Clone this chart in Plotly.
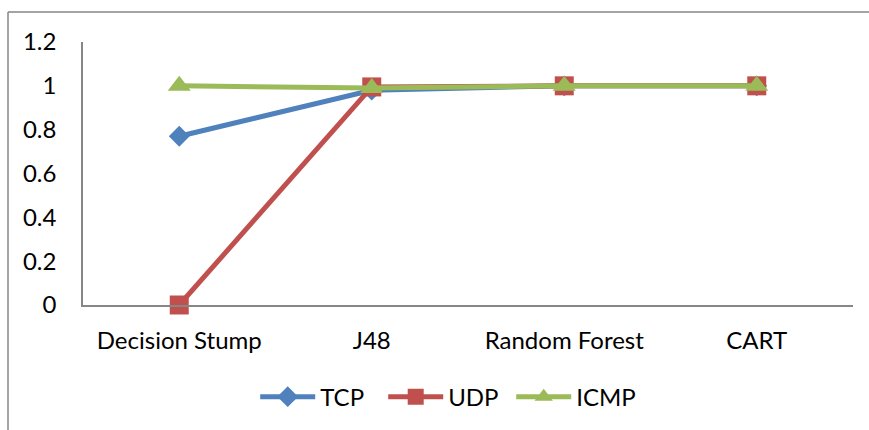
import plotly.graph_objects as go

categories = ["Decision Stump", "J48", "Random Forest", "CART"]
tcp = [0.77, 0.98, 1.0, 1.0]
udp = [0.0, 0.995, 1.0, 1.0]
icmp = [1.0, 0.99, 1.0, 1.0]
y_ticks = [0, 0.2, 0.4, 0.6, 0.8, 1, 1.2]
y_tick_text = ["0", "0.2", "0.4", "0.6", "0.8", "1", "1.2"]

FONT = "Lato"
fig = go.Figure()
fig.add_trace(go.Scatter(x=categories, y=tcp, name="TCP", mode="lines+markers",
                         line=dict(color="#4F81BD", width=5), cliponaxis=False,
                         marker=dict(symbol="diamond", size=16, color="#4F81BD")))
fig.add_trace(go.Scatter(x=categories, y=udp, name="UDP", mode="lines+markers",
                         line=dict(color="#C0504D", width=5), cliponaxis=False,
                         marker=dict(symbol="square", size=19, color="#C0504D")))
fig.add_trace(go.Scatter(x=categories, y=icmp, name="ICMP", mode="lines+markers",
                         line=dict(color="#9BBB59", width=5), cliponaxis=False,
                         marker=dict(symbol="triangle-up", size=20, color="#9BBB59")))

fig.update_layout(
    width=869, height=430,
    margin=dict(l=83, r=16, t=42, b=124),
    paper_bgcolor="white", plot_bgcolor="white",
    font=dict(family=FONT, size=24, color="black"),
    showlegend=True,
    legend=dict(orientation="h", x=0.473, xanchor="center", y=-0.345, yanchor="middle",
                font=dict(size=24), itemwidth=55, entrywidth=58, entrywidthmode="pixels",
                tracegroupgap=0),
    xaxis=dict(type="category", range=[-0.5, 3.5], showgrid=False, showline=True,
               linecolor="#868686", linewidth=1.5, ticks="", ticklabelstandoff=13,
               zeroline=False),
    yaxis=dict(range=[0, 1.2], tickvals=y_ticks, ticktext=y_tick_text, showgrid=False,
               showline=True, linecolor="#868686", linewidth=1.5, ticks="",
               ticklabelstandoff=20, zeroline=False),
)

# outer chart-area frame (left and top visible)
fig.add_shape(type="line", xref="paper", yref="paper", x0=-0.0974, x1=-0.0974,
              y0=-0.6, y1=1.1136, line=dict(color="#868686", width=1.5))
fig.add_shape(type="line", xref="paper", yref="paper", x0=-0.0974, x1=1.05,
              y0=1.1136, y1=1.1136, line=dict(color="#868686", width=1.5))

fig.write_html("out.html")
